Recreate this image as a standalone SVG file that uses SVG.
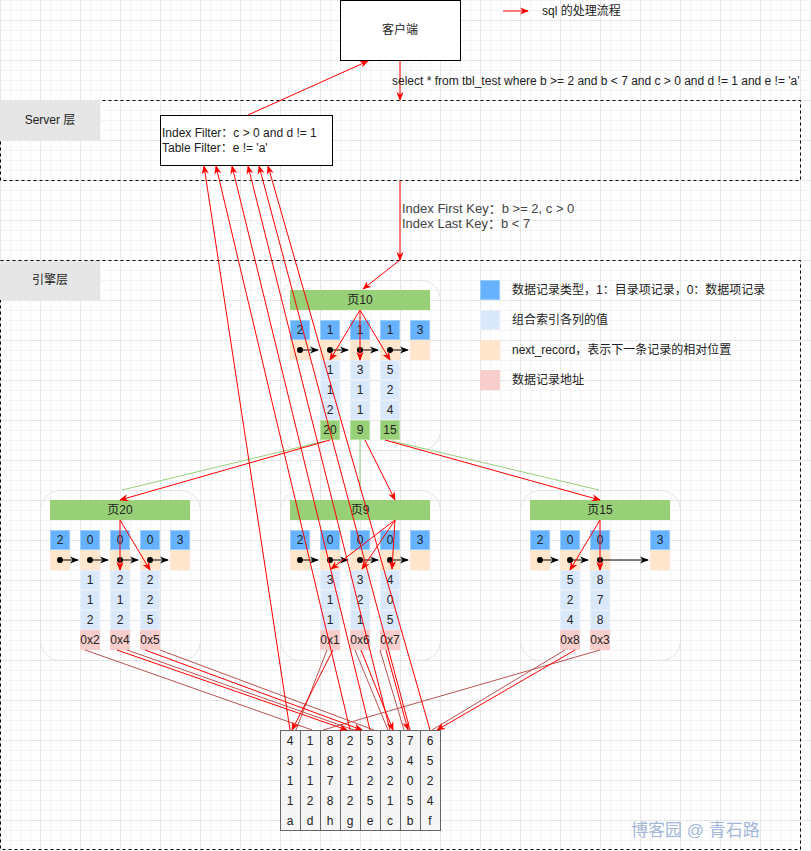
<svg xmlns="http://www.w3.org/2000/svg" width="811" height="851" viewBox="0 0 811 851">
<style>
text{font-family:"Liberation Sans","Noto Sans CJK SC",sans-serif;font-size:12px;fill:#222;}
.c{text-anchor:middle;}
.t{fill:#66b2ff;stroke:#99ccff;stroke-width:1;}
.n{fill:#ffe6cc;stroke:#ffe6cc;}
.v{fill:#dae8fc;stroke:#e8effa;}
.g{fill:#97d077;stroke:#b9e0a5;}
.p{fill:#f8cecc;stroke:#f8cecc;}
.hd{fill:#97d077;stroke:none;}
.box{fill:none;stroke:#e3e3e3;stroke-width:1;}
.lay{fill:none;stroke:#000;stroke-dasharray:3 3;stroke-width:1;}
.lbl{fill:#e6e6e6;stroke:none;}
.red{stroke:#ff0000;stroke-width:1;fill:none;marker-end:url(#ra);}
.brn{stroke:#b85450;stroke-width:1;fill:none;}
.grn{stroke:#97d077;stroke-width:1;fill:none;}
.blk{stroke:#000;stroke-width:1;fill:none;marker-end:url(#ba);}
.dot{fill:#000;}
.tb{fill:#f5f5f5;stroke:#666;stroke-width:1;}
</style>
<defs>
<pattern id="grid" width="40" height="40" patternUnits="userSpaceOnUse" x="0" y="20">
<rect width="40" height="40" fill="#fff"/>
<path d="M10.5 0V40M20.5 0V40M30.5 0V40M0 10.5H40M0 20.5H40M0 30.5H40" stroke="#f4f4f4" stroke-width="1"/>
<path d="M0.5 0V40M0 0.5H40" stroke="#e6e6e6" stroke-width="1"/>
</pattern>
<marker id="ra" viewBox="0 0 10 10" refX="9" refY="5" markerWidth="9" markerHeight="9" markerUnits="userSpaceOnUse" orient="auto">
<path d="M0,1 L10,5 L0,9 L3,5 z" fill="#ff0000"/>
</marker>
<marker id="ba" viewBox="0 0 10 10" refX="9" refY="5" markerWidth="9" markerHeight="9" markerUnits="userSpaceOnUse" orient="auto">
<path d="M0,1 L10,5 L0,9 L3,5 z" fill="#000"/>
</marker>
</defs>
<rect x="0" y="0" width="811" height="851" fill="url(#grid)"/>

<g id="server-layer">
<rect class="lay" x="0.5" y="100.5" width="800" height="80"/>
<rect class="lbl" x="0" y="100" width="100" height="40"/>
<text class="c" x="50" y="124">Server 层</text>
</g>
<g id="engine-layer">
<rect class="lay" x="0.5" y="260.5" width="800" height="589"/>
<rect class="lbl" x="0" y="261" width="100" height="39"/>
<text class="c" x="50" y="284">引擎层</text>
</g>

<g id="client">
<rect x="340.5" y="0.5" width="120" height="60" fill="#fff" stroke="#000"/>
<text class="c" x="400" y="34">客户端</text>
</g>

<g id="legend-flow">
<line x1="503" y1="11" x2="528" y2="11" stroke="#ff0000" marker-end="url(#ra)"/>
<text x="542" y="15">sql 的处理流程</text>
</g>

<g id="filter">
<rect x="160.5" y="115.5" width="172" height="50" fill="#fff" stroke="#000"/>
<text x="162" y="137">Index Filter：c &gt; 0 and d != 1</text>
<text x="162" y="152">Table Filter：e != 'a'</text>
</g>

<g id="legend">
<rect class="t" x="480.5" y="280.5" width="19" height="19"/>
<text x="512" y="294">数据记录类型，1：目录项记录，0：数据项记录</text>
<rect class="v" x="480.5" y="310.5" width="19" height="19"/>
<text x="512" y="324">组合索引各列的值</text>
<rect class="n" x="480.5" y="340.5" width="19" height="19"/>
<text x="512" y="354">next_record，表示下一条记录的相对位置</text>
<rect class="p" x="480.5" y="370.5" width="19" height="19"/>
<text x="512" y="384">数据记录地址</text>
</g>

<g id="page10">
<rect class="box" x="280.5" y="280.5" width="160" height="170" rx="20"/>
<rect class="hd" x="290" y="290" width="140" height="20"/>
<text class="c" x="360" y="304">页10</text>
<rect class="t" x="290.5" y="320.5" width="19" height="19"/><text class="c" x="300" y="334">2</text>
<rect class="t" x="320.5" y="320.5" width="19" height="19"/><text class="c" x="330" y="334">1</text>
<rect class="t" x="350.5" y="320.5" width="19" height="19"/><text class="c" x="360" y="334">1</text>
<rect class="t" x="380.5" y="320.5" width="19" height="19"/><text class="c" x="390" y="334">1</text>
<rect class="t" x="410.5" y="320.5" width="19" height="19"/><text class="c" x="420" y="334">3</text>
<rect class="n" x="290.5" y="340.5" width="19" height="19"/>
<rect class="n" x="320.5" y="340.5" width="19" height="19"/>
<rect class="n" x="350.5" y="340.5" width="19" height="19"/>
<rect class="n" x="380.5" y="340.5" width="19" height="19"/>
<rect class="n" x="410.5" y="340.5" width="19" height="19"/>
<rect class="v" x="320.5" y="360.5" width="19" height="19"/><text class="c" x="330" y="374">1</text>
<rect class="v" x="320.5" y="380.5" width="19" height="19"/><text class="c" x="330" y="394">1</text>
<rect class="v" x="320.5" y="400.5" width="19" height="19"/><text class="c" x="330" y="414">2</text>
<rect class="g" x="320.5" y="420.5" width="19" height="19"/><text class="c" x="330" y="434">20</text>
<rect class="v" x="350.5" y="360.5" width="19" height="19"/><text class="c" x="360" y="374">3</text>
<rect class="v" x="350.5" y="380.5" width="19" height="19"/><text class="c" x="360" y="394">1</text>
<rect class="v" x="350.5" y="400.5" width="19" height="19"/><text class="c" x="360" y="414">1</text>
<rect class="g" x="350.5" y="420.5" width="19" height="19"/><text class="c" x="360" y="434">9</text>
<rect class="v" x="380.5" y="360.5" width="19" height="19"/><text class="c" x="390" y="374">5</text>
<rect class="v" x="380.5" y="380.5" width="19" height="19"/><text class="c" x="390" y="394">2</text>
<rect class="v" x="380.5" y="400.5" width="19" height="19"/><text class="c" x="390" y="414">4</text>
<rect class="g" x="380.5" y="420.5" width="19" height="19"/><text class="c" x="390" y="434">15</text>
<circle class="dot" cx="300" cy="350" r="3"/><line class="blk" x1="300" y1="350" x2="318" y2="350"/>
<circle class="dot" cx="330" cy="350" r="3"/><line class="blk" x1="330" y1="350" x2="348" y2="350"/>
<circle class="dot" cx="360" cy="350" r="3"/><line class="blk" x1="360" y1="350" x2="378" y2="350"/>
<circle class="dot" cx="390" cy="350" r="3"/><line class="blk" x1="390" y1="350" x2="408" y2="350"/>
</g>

<g id="page20">
<rect class="box" x="40.5" y="490.5" width="160" height="170" rx="20"/>
<rect class="hd" x="50" y="500" width="140" height="20"/>
<text class="c" x="120" y="514">页20</text>
<rect class="t" x="50.5" y="530.5" width="19" height="19"/><text class="c" x="60" y="544">2</text>
<rect class="t" x="80.5" y="530.5" width="19" height="19"/><text class="c" x="90" y="544">0</text>
<rect class="t" x="110.5" y="530.5" width="19" height="19"/><text class="c" x="120" y="544">0</text>
<rect class="t" x="140.5" y="530.5" width="19" height="19"/><text class="c" x="150" y="544">0</text>
<rect class="t" x="170.5" y="530.5" width="19" height="19"/><text class="c" x="180" y="544">3</text>
<rect class="n" x="50.5" y="550.5" width="19" height="19"/>
<rect class="n" x="80.5" y="550.5" width="19" height="19"/>
<rect class="n" x="110.5" y="550.5" width="19" height="19"/>
<rect class="n" x="140.5" y="550.5" width="19" height="19"/>
<rect class="n" x="170.5" y="550.5" width="19" height="19"/>
<rect class="v" x="80.5" y="570.5" width="19" height="19"/><text class="c" x="90" y="584">1</text>
<rect class="v" x="80.5" y="590.5" width="19" height="19"/><text class="c" x="90" y="604">1</text>
<rect class="v" x="80.5" y="610.5" width="19" height="19"/><text class="c" x="90" y="624">2</text>
<rect class="p" x="80.5" y="630.5" width="19" height="19"/><text class="c" x="90" y="644">0x2</text>
<rect class="v" x="110.5" y="570.5" width="19" height="19"/><text class="c" x="120" y="584">2</text>
<rect class="v" x="110.5" y="590.5" width="19" height="19"/><text class="c" x="120" y="604">1</text>
<rect class="v" x="110.5" y="610.5" width="19" height="19"/><text class="c" x="120" y="624">2</text>
<rect class="p" x="110.5" y="630.5" width="19" height="19"/><text class="c" x="120" y="644">0x4</text>
<rect class="v" x="140.5" y="570.5" width="19" height="19"/><text class="c" x="150" y="584">2</text>
<rect class="v" x="140.5" y="590.5" width="19" height="19"/><text class="c" x="150" y="604">2</text>
<rect class="v" x="140.5" y="610.5" width="19" height="19"/><text class="c" x="150" y="624">5</text>
<rect class="p" x="140.5" y="630.5" width="19" height="19"/><text class="c" x="150" y="644">0x5</text>
<circle class="dot" cx="60" cy="560" r="3"/><line class="blk" x1="60" y1="560" x2="78" y2="560"/>
<circle class="dot" cx="90" cy="560" r="3"/><line class="blk" x1="90" y1="560" x2="108" y2="560"/>
<circle class="dot" cx="120" cy="560" r="3"/><line class="blk" x1="120" y1="560" x2="138" y2="560"/>
<circle class="dot" cx="150" cy="560" r="3"/><line class="blk" x1="150" y1="560" x2="168" y2="560"/>
</g>

<g id="page9">
<rect class="box" x="280.5" y="490.5" width="160" height="170" rx="20"/>
<rect class="hd" x="290" y="500" width="140" height="20"/>
<text class="c" x="360" y="514">页9</text>
<rect class="t" x="290.5" y="530.5" width="19" height="19"/><text class="c" x="300" y="544">2</text>
<rect class="t" x="320.5" y="530.5" width="19" height="19"/><text class="c" x="330" y="544">0</text>
<rect class="t" x="350.5" y="530.5" width="19" height="19"/><text class="c" x="360" y="544">0</text>
<rect class="t" x="380.5" y="530.5" width="19" height="19"/><text class="c" x="390" y="544">0</text>
<rect class="t" x="410.5" y="530.5" width="19" height="19"/><text class="c" x="420" y="544">3</text>
<rect class="n" x="290.5" y="550.5" width="19" height="19"/>
<rect class="n" x="320.5" y="550.5" width="19" height="19"/>
<rect class="n" x="350.5" y="550.5" width="19" height="19"/>
<rect class="n" x="380.5" y="550.5" width="19" height="19"/>
<rect class="n" x="410.5" y="550.5" width="19" height="19"/>
<rect class="v" x="320.5" y="570.5" width="19" height="19"/><text class="c" x="330" y="584">3</text>
<rect class="v" x="320.5" y="590.5" width="19" height="19"/><text class="c" x="330" y="604">1</text>
<rect class="v" x="320.5" y="610.5" width="19" height="19"/><text class="c" x="330" y="624">1</text>
<rect class="p" x="320.5" y="630.5" width="19" height="19"/><text class="c" x="330" y="644">0x1</text>
<rect class="v" x="350.5" y="570.5" width="19" height="19"/><text class="c" x="360" y="584">3</text>
<rect class="v" x="350.5" y="590.5" width="19" height="19"/><text class="c" x="360" y="604">2</text>
<rect class="v" x="350.5" y="610.5" width="19" height="19"/><text class="c" x="360" y="624">1</text>
<rect class="p" x="350.5" y="630.5" width="19" height="19"/><text class="c" x="360" y="644">0x6</text>
<rect class="v" x="380.5" y="570.5" width="19" height="19"/><text class="c" x="390" y="584">4</text>
<rect class="v" x="380.5" y="590.5" width="19" height="19"/><text class="c" x="390" y="604">0</text>
<rect class="v" x="380.5" y="610.5" width="19" height="19"/><text class="c" x="390" y="624">5</text>
<rect class="p" x="380.5" y="630.5" width="19" height="19"/><text class="c" x="390" y="644">0x7</text>
<circle class="dot" cx="300" cy="560" r="3"/><line class="blk" x1="300" y1="560" x2="318" y2="560"/>
<circle class="dot" cx="330" cy="560" r="3"/><line class="blk" x1="330" y1="560" x2="348" y2="560"/>
<circle class="dot" cx="360" cy="560" r="3"/><line class="blk" x1="360" y1="560" x2="378" y2="560"/>
<circle class="dot" cx="390" cy="560" r="3"/><line class="blk" x1="390" y1="560" x2="408" y2="560"/>
</g>

<g id="page15">
<rect class="box" x="520.5" y="490.5" width="160" height="170" rx="20"/>
<rect class="hd" x="530" y="500" width="140" height="20"/>
<text class="c" x="600" y="514">页15</text>
<rect class="t" x="530.5" y="530.5" width="19" height="19"/><text class="c" x="540" y="544">2</text>
<rect class="t" x="560.5" y="530.5" width="19" height="19"/><text class="c" x="570" y="544">0</text>
<rect class="t" x="590.5" y="530.5" width="19" height="19"/><text class="c" x="600" y="544">0</text>
<rect class="t" x="650.5" y="530.5" width="19" height="19"/><text class="c" x="660" y="544">3</text>
<rect class="n" x="530.5" y="550.5" width="19" height="19"/>
<rect class="n" x="560.5" y="550.5" width="19" height="19"/>
<rect class="n" x="590.5" y="550.5" width="19" height="19"/>
<rect class="n" x="650.5" y="550.5" width="19" height="19"/>
<rect class="v" x="560.5" y="570.5" width="19" height="19"/><text class="c" x="570" y="584">5</text>
<rect class="v" x="560.5" y="590.5" width="19" height="19"/><text class="c" x="570" y="604">2</text>
<rect class="v" x="560.5" y="610.5" width="19" height="19"/><text class="c" x="570" y="624">4</text>
<rect class="p" x="560.5" y="630.5" width="19" height="19"/><text class="c" x="570" y="644">0x8</text>
<rect class="v" x="590.5" y="570.5" width="19" height="19"/><text class="c" x="600" y="584">8</text>
<rect class="v" x="590.5" y="590.5" width="19" height="19"/><text class="c" x="600" y="604">7</text>
<rect class="v" x="590.5" y="610.5" width="19" height="19"/><text class="c" x="600" y="624">8</text>
<rect class="p" x="590.5" y="630.5" width="19" height="19"/><text class="c" x="600" y="644">0x3</text>
<circle class="dot" cx="540" cy="560" r="3"/><line class="blk" x1="540" y1="560" x2="558" y2="560"/>
<circle class="dot" cx="570" cy="560" r="3"/><line class="blk" x1="570" y1="560" x2="588" y2="560"/>
<circle class="dot" cx="600" cy="560" r="3"/><line class="blk" x1="600" y1="560" x2="648" y2="560"/>
</g>

<g id="table">
<rect class="tb" x="280.5" y="730.5" width="20" height="100"/>
<rect class="tb" x="300.5" y="730.5" width="20" height="100"/>
<rect class="tb" x="320.5" y="730.5" width="20" height="100"/>
<rect class="tb" x="340.5" y="730.5" width="20" height="100"/>
<rect class="tb" x="360.5" y="730.5" width="20" height="100"/>
<rect class="tb" x="380.5" y="730.5" width="20" height="100"/>
<rect class="tb" x="400.5" y="730.5" width="20" height="100"/>
<rect class="tb" x="420.5" y="730.5" width="20" height="100"/>
<text class="c" x="290" y="745">4</text><text class="c" x="290" y="765">3</text><text class="c" x="290" y="785">1</text><text class="c" x="290" y="805">1</text><text class="c" x="290" y="825">a</text>
<text class="c" x="310" y="745">1</text><text class="c" x="310" y="765">1</text><text class="c" x="310" y="785">1</text><text class="c" x="310" y="805">2</text><text class="c" x="310" y="825">d</text>
<text class="c" x="330" y="745">8</text><text class="c" x="330" y="765">8</text><text class="c" x="330" y="785">7</text><text class="c" x="330" y="805">8</text><text class="c" x="330" y="825">h</text>
<text class="c" x="350" y="745">2</text><text class="c" x="350" y="765">2</text><text class="c" x="350" y="785">1</text><text class="c" x="350" y="805">2</text><text class="c" x="350" y="825">g</text>
<text class="c" x="370" y="745">5</text><text class="c" x="370" y="765">2</text><text class="c" x="370" y="785">2</text><text class="c" x="370" y="805">5</text><text class="c" x="370" y="825">e</text>
<text class="c" x="390" y="745">3</text><text class="c" x="390" y="765">3</text><text class="c" x="390" y="785">2</text><text class="c" x="390" y="805">1</text><text class="c" x="390" y="825">c</text>
<text class="c" x="410" y="745">7</text><text class="c" x="410" y="765">4</text><text class="c" x="410" y="785">0</text><text class="c" x="410" y="805">5</text><text class="c" x="410" y="825">b</text>
<text class="c" x="430" y="745">6</text><text class="c" x="430" y="765">5</text><text class="c" x="430" y="785">2</text><text class="c" x="430" y="805">4</text><text class="c" x="430" y="825">f</text>
</g>

<g id="connectors">
<line class="red" x1="400" y1="61" x2="400" y2="100"/>
<text x="392" y="85">select * from tbl_test where b &gt;= 2 and b &lt; 7 and c &gt; 0 and d != 1 and e != 'a'</text>
<line class="red" x1="248" y1="115" x2="368" y2="61"/>
<line class="red" x1="400" y1="181" x2="400" y2="260"/>
<text x="402" y="213" style="fill:#444;font-size:13px">Index First Key：b &gt;= 2, c &gt; 0</text>
<text x="402" y="228" style="fill:#444;font-size:13px">Index Last Key：b &lt; 7</text>
<line class="red" x1="400" y1="260" x2="363" y2="289"/>
<line class="red" x1="360" y1="310" x2="330" y2="360"/>
<line class="red" x1="360" y1="310" x2="360" y2="360"/>
<line class="red" x1="360" y1="310" x2="390" y2="360"/>
<line class="grn" x1="325" y1="441" x2="122" y2="490"/>
<line class="grn" x1="360" y1="440" x2="360" y2="491"/>
<line class="grn" x1="392" y1="441" x2="599" y2="490"/>
<line class="red" x1="330" y1="440" x2="120" y2="500"/>
<line class="red" x1="365" y1="440" x2="395" y2="500"/>
<line class="red" x1="385" y1="440" x2="600" y2="500"/>
<line class="red" x1="120" y1="520" x2="120" y2="570"/>
<line class="red" x1="120" y1="520" x2="150" y2="570"/>
<line class="red" x1="395" y1="520" x2="331" y2="569"/>
<line class="red" x1="395" y1="520" x2="362" y2="569"/>
<line class="red" x1="395" y1="520" x2="392" y2="569"/>
<line class="red" x1="600" y1="520" x2="570" y2="570"/>
<line class="red" x1="600" y1="520" x2="600" y2="570"/>
<line class="brn" x1="85" y1="650" x2="312" y2="730"/>
<line class="brn" x1="127" y1="650" x2="354" y2="730"/>
<line class="brn" x1="160" y1="650" x2="374" y2="730"/>
<line class="brn" x1="327" y1="650" x2="296" y2="730"/>
<line class="brn" x1="355" y1="650" x2="388" y2="730"/>
<line class="brn" x1="380" y1="650" x2="404" y2="730"/>
<line class="brn" x1="565" y1="650" x2="432" y2="730"/>
<line class="brn" x1="600" y1="650" x2="323" y2="730"/>
<line class="red" x1="117" y1="650" x2="347" y2="730"/>
<line class="red" x1="145" y1="650" x2="362" y2="730"/>
<line class="red" x1="333" y1="650" x2="292" y2="730"/>
<line class="red" x1="361" y1="650" x2="393" y2="730"/>
<line class="red" x1="386" y1="650" x2="408" y2="730"/>
<line class="red" x1="575" y1="650" x2="437" y2="730"/>
<line class="red" x1="290" y1="730" x2="204" y2="166"/>
<line class="red" x1="350" y1="730" x2="216" y2="166"/>
<line class="red" x1="370" y1="730" x2="232" y2="166"/>
<line class="red" x1="390" y1="730" x2="248" y2="166"/>
<line class="red" x1="410" y1="730" x2="259" y2="166"/>
<line class="red" x1="430" y1="730" x2="268" y2="166"/>
</g>

<g id="watermark">
<text x="631" y="836" style="font-size:17px;fill:#a3b7d8">博客园 @ 青石路</text>
</g>
</svg>
